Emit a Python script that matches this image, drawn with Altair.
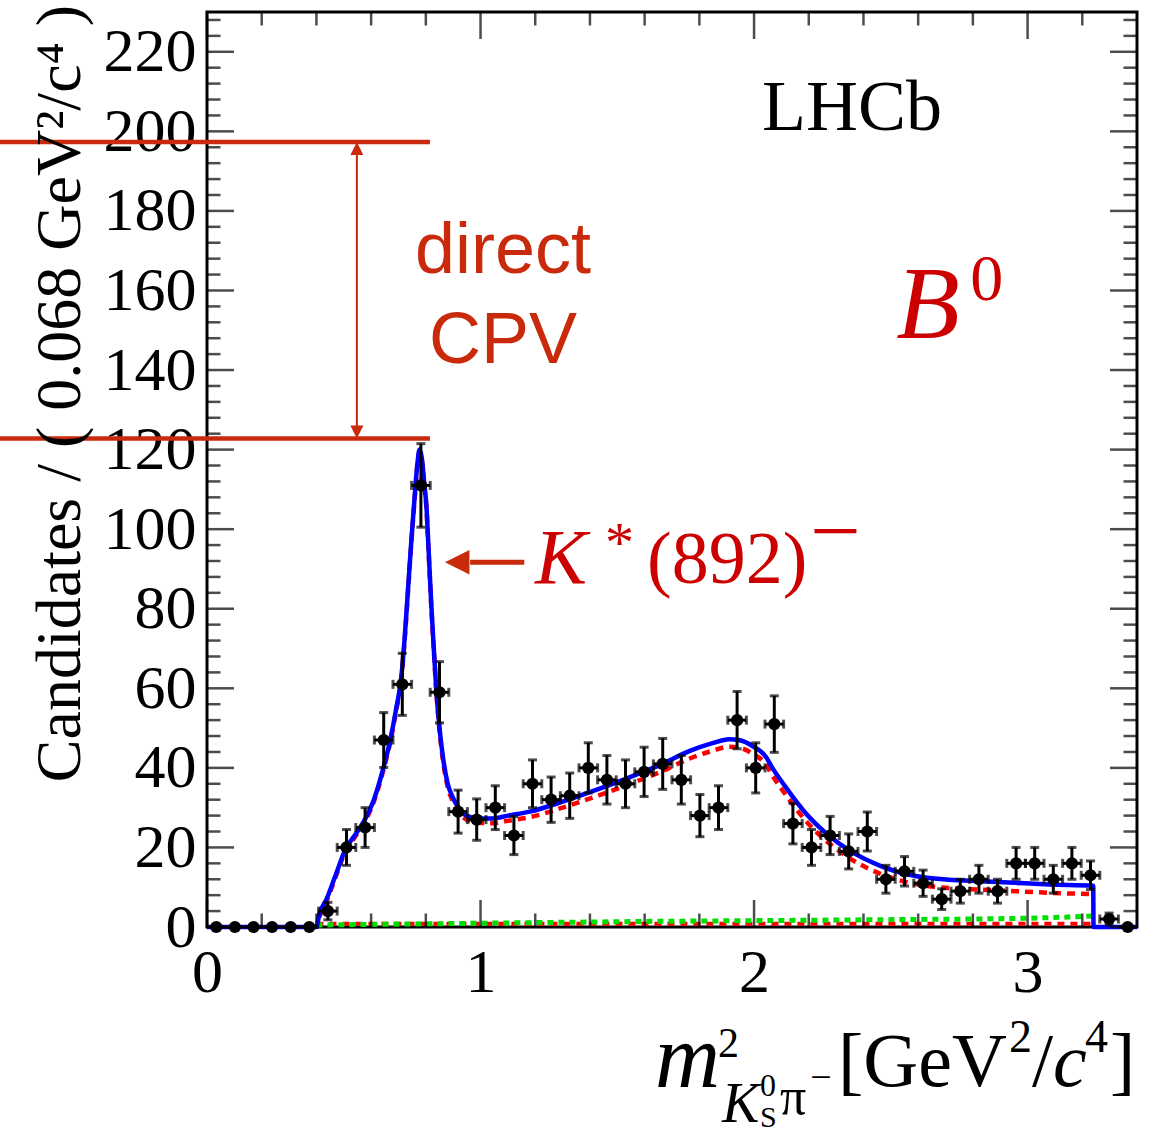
import altair as alt
import pandas as pd

SERIF = "Liberation Serif"
SANS = "Liberation Sans"
ANNOT_RED = "#c92a0c"
LABEL_RED = "#cc0000"

# ---- data: m^2(K0S pi-) histogram, 50 bins of 0.068 GeV^2/c^4 ----
BIN_WIDTH = 0.068
counts = [0, 0, 0, 0, 0, 0, 4, 20, 25, 47,
          61, 111, 59, 29, 27, 30, 23, 36, 32, 33,
          40, 37, 36, 39, 41, 37, 28, 30, 52, 40,
          51, 26, 20, 23, 19, 24, 12, 14, 11, 7,
          9, 12, 9, 16, 16, 12, 16, 13, 2, 0]
errors = [0, 0, 0, 0, 0, 0, 2.2, 4.5, 5.0, 6.9,
          7.8, 10.5, 7.7, 5.4, 5.2, 5.5, 4.8, 6.0, 5.7, 5.7,
          6.3, 6.1, 6.0, 6.2, 6.4, 6.1, 5.3, 5.5, 7.2, 6.3,
          7.1, 5.1, 4.5, 4.8, 4.4, 4.9, 3.5, 3.7, 3.3, 2.6,
          3.0, 3.5, 3.0, 4.0, 4.0, 3.5, 4.0, 3.6, 1.5, 0]

# ---- fit projections ----
fit_x = [0.0, 0.40, 0.41, 0.437, 0.47, 0.506, 0.54, 0.573, 0.61, 0.641,
         0.67, 0.692, 0.709, 0.722, 0.735, 0.748, 0.759, 0.77, 0.777, 0.785,
         0.795, 0.802, 0.81, 0.82, 0.83, 0.838, 0.85, 0.862, 0.88, 0.899,
         0.92, 0.948, 0.99, 1.045, 1.10, 1.18, 1.30, 1.42, 1.54, 1.665,
         1.763, 1.848, 1.909, 1.945, 1.994, 2.043, 2.067, 2.128, 2.189, 2.225,
         2.347, 2.468, 2.59, 2.712, 2.833, 2.955, 3.077, 3.24, 3.241, 3.4]
fit_total = [0, 0, 3.0, 7.0, 13.0, 19.5, 23.0, 26.5, 32.0, 39.0,
             47.0, 55.0, 62.0, 72.0, 85.0, 98.0, 108.0, 117.0, 120.0, 118.0,
             111.0, 106.0, 95.0, 81.0, 69.0, 60.0, 50.0, 43.0, 36.0, 32.5,
             30.0, 28.0, 27.3, 27.3, 28.0, 29.0, 31.5, 34.4, 37.5, 41.0,
             44.2, 46.2, 47.2, 47.0, 45.5, 42.8, 40.0, 34.0, 28.6, 26.0,
             19.3, 15.2, 12.8, 11.9, 11.5, 11.1, 10.7, 10.4, 0, 0]
sig_x = fit_x[2:58]
fit_signal = [2.5, 6.5, 12.5, 19.0, 22.5, 26.0, 31.5, 38.5,
              46.5, 54.5, 61.5, 71.5, 84.5, 97.5, 107.5, 116.5, 119.5, 117.5,
              110.5, 105.5, 94.5, 80.5, 68.5, 59.5, 49.3, 42.2, 35.2, 31.6,
              29.0, 27.0, 26.2, 26.1, 26.7, 27.6, 30.0, 32.8, 35.8, 39.2,
              42.3, 44.3, 45.3, 45.1, 43.6, 40.9, 38.1, 32.1, 26.7, 24.1,
              17.4, 13.2, 10.8, 9.8, 9.4, 9.0, 8.6, 8.3]
bkg_x = [0.40, 0.8, 1.2, 1.6, 2.0, 2.4, 2.8, 3.0, 3.15, 3.24]
bkg_comb = [0.5, 0.8, 1.1, 1.4, 1.6, 1.8, 2.0, 2.2, 2.5, 2.8]
bkg_other = [0.8, 0.8, 0.8, 0.8, 0.8, 0.8, 0.8, 0.8, 0.8, 0.8]

# ---- annotation geometry (data units) ----
cpv_levels = [197.3, 122.8]
cpv_line_x = [-0.757, 0.815]
cpv_arrow_x = 0.548
kstar_arrow_y = 91.7
kstar_arrow_x = [0.870, 0.962, 1.160]

# ---- axis ticks ----
ytick_major = list(range(0, 221, 20))
ytick_minor = [v for v in range(0, 229, 4) if v % 20]
xtick_major = [0, 1, 2, 3]
xtick_minor = [round(0.2 * i, 1) for i in range(17) if i % 5]

W, H = 930, 915
X_MAX, Y_MAX = 3.4, 230
xs = alt.Scale(domain=[0, X_MAX], nice=False, zero=False)
ys = alt.Scale(domain=[0, Y_MAX], nice=False, zero=False)

xaxis = alt.Axis(values=xtick_major, title=None, grid=False, ticks=False, tickSize=0,
                 domain=False, labelFont=SERIF, labelFontSize=62, labelPadding=15,
                 labelColor="black", labelFlush=False, labelOverlap=False)
yaxis = alt.Axis(values=ytick_major, title=None, grid=False, ticks=False, tickSize=0,
                 domain=False, labelFont=SERIF, labelFontSize=62, labelPadding=11,
                 labelColor="black", labelOverlap=False)


def X(f="x"):
    return alt.X(f"{f}:Q", scale=xs, axis=xaxis)


def Y(f="y"):
    return alt.Y(f"{f}:Q", scale=ys, axis=yaxis)


# data table
hist = pd.DataFrame({
    "x": [(i + 0.5) * BIN_WIDTH for i in range(len(counts))],
    "y": counts,
    "err": errors,
})
hist["ylo"] = hist["y"] - hist["err"]
hist["yhi"] = hist["y"] + hist["err"]
hist["xlo"] = hist["x"] - BIN_WIDTH / 2
hist["xhi"] = hist["x"] + BIN_WIDTH / 2
nz = hist[hist["y"] > 0]

total_df = pd.DataFrame({"x": fit_x, "y": fit_total})
sig_df = pd.DataFrame({"x": sig_x, "y": fit_signal})
comb_df = pd.DataFrame({"x": bkg_x, "y": bkg_comb})
other_df = pd.DataFrame({"x": bkg_x, "y": bkg_other})

layers = []

# fit components
layers.append(alt.Chart(other_df).mark_line(color="#ff0000", strokeWidth=4, strokeDash=[7, 6])
              .encode(x=X(), y=Y()))
layers.append(alt.Chart(comb_df).mark_line(color="#00e000", strokeWidth=5, strokeDash=[6, 5])
              .encode(x=X(), y=Y()))
layers.append(alt.Chart(sig_df).mark_line(color="#ff0000", strokeWidth=4.5, strokeDash=[8, 6],
                                          interpolate="monotone")
              .encode(x=X(), y=Y()))
layers.append(alt.Chart(total_df).mark_line(color="#0000ff", strokeWidth=4.5, interpolate="monotone")
              .encode(x=X(), y=Y()))

# data points with error bars and end caps
layers.append(alt.Chart(nz).mark_rule(color="black", strokeWidth=3)
              .encode(x=X(), y=Y("ylo"), y2="yhi:Q"))
layers.append(alt.Chart(hist).mark_rule(color="black", strokeWidth=3)
              .encode(x=X("xlo"), x2="xhi:Q", y=Y()))
for f in ["ylo", "yhi"]:
    layers.append(alt.Chart(nz).mark_tick(color="black", orient="horizontal", size=9, thickness=3)
                  .encode(x=X(), y=Y(f)))
for f in ["xlo", "xhi"]:
    layers.append(alt.Chart(nz).mark_tick(color="black", orient="vertical", size=9, thickness=3)
                  .encode(x=X(f), y=Y()))
layers.append(alt.Chart(hist).mark_point(filled=True, shape="circle", size=150, color="black", opacity=1)
              .encode(x=X(), y=Y()))


# inward ticks on all four sides
def side_ticks(vals, fixed, along, size, offset):
    if along == "y":
        df = pd.DataFrame({"x": [fixed] * len(vals), "y": vals})
        mk = alt.Chart(df).mark_tick(color="black", orient="horizontal", size=size,
                                     thickness=2.5, xOffset=offset)
    else:
        df = pd.DataFrame({"x": vals, "y": [fixed] * len(vals)})
        mk = alt.Chart(df).mark_tick(color="black", orient="vertical", size=size,
                                     thickness=2.5, yOffset=offset)
    return mk.encode(x=X(), y=Y())


MAJ, MIN = 27, 13.5
layers += [
    side_ticks(ytick_major, 0, "y", MAJ, MAJ / 2),
    side_ticks(ytick_minor, 0, "y", MIN, MIN / 2),
    side_ticks(ytick_major, X_MAX, "y", MAJ, -MAJ / 2),
    side_ticks(ytick_minor, X_MAX, "y", MIN, -MIN / 2),
    side_ticks(xtick_major, 0, "x", MAJ, -MAJ / 2),
    side_ticks(xtick_minor, 0, "x", MIN, -MIN / 2),
    side_ticks(xtick_major, Y_MAX, "x", MAJ, MAJ / 2),
    side_ticks(xtick_minor, Y_MAX, "x", MIN, MIN / 2),
]

# direct CPV band: two horizontal lines and a double arrow
cpv_df = pd.DataFrame({"x": [cpv_line_x[0]] * 2, "x2": [cpv_line_x[1]] * 2, "y": cpv_levels})
layers.append(alt.Chart(cpv_df).mark_rule(color=ANNOT_RED, strokeWidth=4.5)
              .encode(x=X(), x2="x2:Q", y=Y()))
arrow_df = pd.DataFrame({"x": [cpv_arrow_x], "y": [cpv_levels[1] + 3], "y2": [cpv_levels[0] - 3]})
layers.append(alt.Chart(arrow_df).mark_rule(color=ANNOT_RED, strokeWidth=2)
              .encode(x=X(), y=Y(), y2="y2:Q"))
layers.append(alt.Chart(pd.DataFrame({"x": [cpv_arrow_x], "y": [cpv_levels[0]]}))
              .mark_point(shape="M0,0L1,2L-1,2Z", size=169, filled=True, color=ANNOT_RED, opacity=1)
              .encode(x=X(), y=Y()))
layers.append(alt.Chart(pd.DataFrame({"x": [cpv_arrow_x], "y": [cpv_levels[1]]}))
              .mark_point(shape="M0,0L1,-2L-1,-2Z", size=169, filled=True, color=ANNOT_RED, opacity=1)
              .encode(x=X(), y=Y()))

# K*(892) pointer arrow
layers.append(alt.Chart(pd.DataFrame({"x": [kstar_arrow_x[1]], "x2": [kstar_arrow_x[2]], "y": [kstar_arrow_y]}))
              .mark_rule(color=ANNOT_RED, strokeWidth=5)
              .encode(x=X(), x2="x2:Q", y=Y()))
layers.append(alt.Chart(pd.DataFrame({"x": [kstar_arrow_x[0]], "y": [kstar_arrow_y]}))
              .mark_point(shape="M0,0L2,-1L2,1Z", size=600, filled=True, color=ANNOT_RED, opacity=1)
              .encode(x=X(), y=Y()))

# ---- text ----
serif_up = pd.DataFrame([
    {"x": 2.029, "y": 200.4, "t": "LHCb", "s": 72, "c": "black"},
    {"x": 2.790, "y": 157.6, "t": "0", "s": 66, "c": LABEL_RED},
    {"x": 1.455, "y": 91.8, "t": "*", "s": 58, "c": LABEL_RED},
    {"x": 1.609, "y": 86.5, "t": "(892)", "s": 74, "c": LABEL_RED},
    {"x": 2.205, "y": 92.0, "t": "\u2212", "s": 90, "c": LABEL_RED},
    # x-axis title pieces
    {"x": 1.868, "y": -32.7, "t": "2", "s": 42, "c": "black"},
    {"x": 2.022, "y": -42.5, "t": "0", "s": 32, "c": "black"},
    {"x": 2.022, "y": -50.3, "t": "S", "s": 30, "c": "black"},
    {"x": 2.095, "y": -47.0, "t": "\u03c0", "s": 52, "c": "black"},
    {"x": 2.205, "y": -41.0, "t": "\u2212", "s": 38, "c": "black"},
    {"x": 2.307, "y": -40.0, "t": "[GeV", "s": 76, "c": "black"},
    {"x": 2.932, "y": -31.4, "t": "2", "s": 46, "c": "black"},
    {"x": 3.016, "y": -40.0, "t": "/", "s": 76, "c": "black"},
    {"x": 3.210, "y": -31.4, "t": "4", "s": 46, "c": "black"},
    {"x": 3.301, "y": -40.0, "t": "]", "s": 76, "c": "black"},
])
serif_it = pd.DataFrame([
    {"x": 2.520, "y": 148.0, "t": "B", "s": 104, "c": LABEL_RED},
    {"x": 1.199, "y": 86.5, "t": "K", "s": 78, "c": LABEL_RED},
    {"x": 1.638, "y": -40.2, "t": "m", "s": 90, "c": "black"},
    {"x": 1.883, "y": -49.0, "t": "K", "s": 56, "c": "black"},
    {"x": 3.093, "y": -40.0, "t": "c", "s": 76, "c": "black"},
])
sans_df = pd.DataFrame([
    {"x": 1.082, "y": 164.4, "t": "direct", "s": 72, "c": ANNOT_RED},
    {"x": 1.082, "y": 141.8, "t": "CPV", "s": 72, "c": ANNOT_RED},
])
ytitle_df = pd.DataFrame([
    {"x": -0.464, "y": 231.8, "t": "Candidates / ( 0.068 GeV\u00b2/c\u2074 )", "s": 64, "c": "black"},
])


def text_layer(df, **kw):
    return alt.Chart(df).mark_text(baseline="alphabetic", **kw).encode(
        x=X(), y=Y(), text="t:N",
        size=alt.Size("s:Q", scale=None, legend=None),
        color=alt.Color("c:N", scale=None, legend=None),
    )


layers.append(text_layer(serif_up, font=SERIF, align="left"))
layers.append(text_layer(serif_it, font=SERIF, fontStyle="italic", align="left"))
layers.append(text_layer(sans_df, font=SANS, align="center"))
layers.append(text_layer(ytitle_df, font=SERIF, align="right", angle=270))

chart = alt.layer(*layers).properties(
    width=W, height=H,
    autosize=alt.AutoSizeParams(type="none"),
    padding={"left": 207, "top": 12, "right": 33, "bottom": 206},
    background="white",
).configure_view(stroke="black", strokeWidth=3)

chart.save("out.html", embed_options={"renderer": "svg", "actions": False})
